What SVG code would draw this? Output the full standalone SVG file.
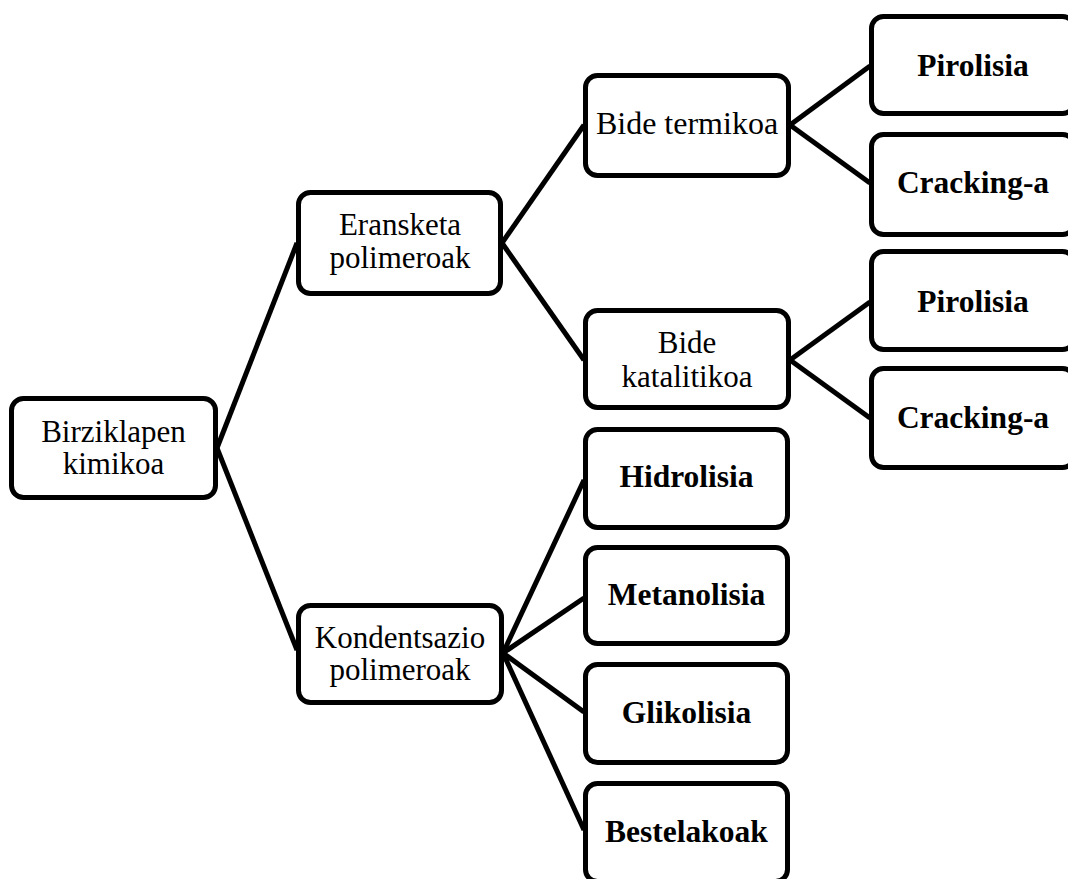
<svg xmlns="http://www.w3.org/2000/svg" width="1068" height="879" viewBox="0 0 1068 879">
<style>
.box{fill:#fff;stroke:#000;stroke-width:5}
.lnk{stroke:#000;stroke-width:5;fill:none}
.t{font-size:31px;fill:#000;text-anchor:middle}
.s{font-size:32px}
.b{font-weight:bold;font-size:31.5px}
</style>
<rect width="1068" height="879" fill="#fff"/>
<g id="connectors">
<line class="lnk" x1="217" y1="448" x2="297" y2="243"/>
<line class="lnk" x1="217" y1="448" x2="297" y2="650"/>
<line class="lnk" x1="502" y1="243" x2="584" y2="125"/>
<line class="lnk" x1="502" y1="243" x2="584" y2="360"/>
<line class="lnk" x1="790" y1="125" x2="870" y2="66"/>
<line class="lnk" x1="790" y1="125" x2="870" y2="183"/>
<line class="lnk" x1="790" y1="360" x2="870" y2="302"/>
<line class="lnk" x1="790" y1="360" x2="870" y2="418"/>
<line class="lnk" x1="503" y1="653" x2="584" y2="480"/>
<line class="lnk" x1="503" y1="653" x2="584" y2="598"/>
<line class="lnk" x1="503" y1="653" x2="584" y2="712"/>
<line class="lnk" x1="503" y1="653" x2="584" y2="830"/>
</g>
<g font-family="'Liberation Serif', 'Times New Roman', Times, serif">
<g id="n-birziklapen"><rect class="box" x="11.5" y="398.5" width="204" height="99" rx="12"/><text class="t" x="113.5" y="442">Birziklapen</text><text class="t" x="113.5" y="474">kimikoa</text></g>
<g id="n-eransketa"><rect class="box" x="298.5" y="192.5" width="202" height="101" rx="12"/><text class="t" x="400" y="235">Eransketa</text><text class="t" x="400" y="268">polimeroak</text></g>
<g id="n-kondentsazio"><rect class="box" x="298.5" y="605.5" width="203" height="97" rx="12"/><text class="t" x="400" y="648">Kondentsazio</text><text class="t" x="400" y="680">polimeroak</text></g>
<g id="n-bide-termikoa"><rect class="box" x="585.5" y="75.5" width="203" height="100" rx="12"/><text class="t s" x="687" y="134">Bide termikoa</text></g>
<g id="n-bide-katalitikoa"><rect class="box" x="585.5" y="310.5" width="203" height="97" rx="12"/><text class="t" x="687" y="353">Bide</text><text class="t" x="687" y="387">katalitikoa</text></g>
<g id="n-pirolisia1"><rect class="box" x="871.5" y="16.5" width="203" height="97" rx="12"/><text class="t b" x="973" y="76">Pirolisia</text></g>
<g id="n-cracking1"><rect class="box" x="871.5" y="134.5" width="203" height="100" rx="12"/><text class="t b" x="973" y="193">Cracking-a</text></g>
<g id="n-pirolisia2"><rect class="box" x="871.5" y="251.5" width="203" height="98" rx="12"/><text class="t b" x="973" y="312">Pirolisia</text></g>
<g id="n-cracking2"><rect class="box" x="871.5" y="368.5" width="203" height="99" rx="12"/><text class="t b" x="973" y="428">Cracking-a</text></g>
<g id="n-hidrolisia"><rect class="box" x="585.5" y="429.5" width="202" height="98" rx="12"/><text class="t b" x="686.5" y="487">Hidrolisia</text></g>
<g id="n-metanolisia"><rect class="box" x="585.5" y="547.5" width="202" height="96" rx="12"/><text class="t b" x="686.5" y="605">Metanolisia</text></g>
<g id="n-glikolisia"><rect class="box" x="585.5" y="664.5" width="202" height="98" rx="12"/><text class="t b" x="686.5" y="723">Glikolisia</text></g>
<g id="n-bestelakoak"><rect class="box" x="585.5" y="783.5" width="202" height="98" rx="12"/><text class="t b" x="686.5" y="842">Bestelakoak</text></g>
</g>
</svg>
